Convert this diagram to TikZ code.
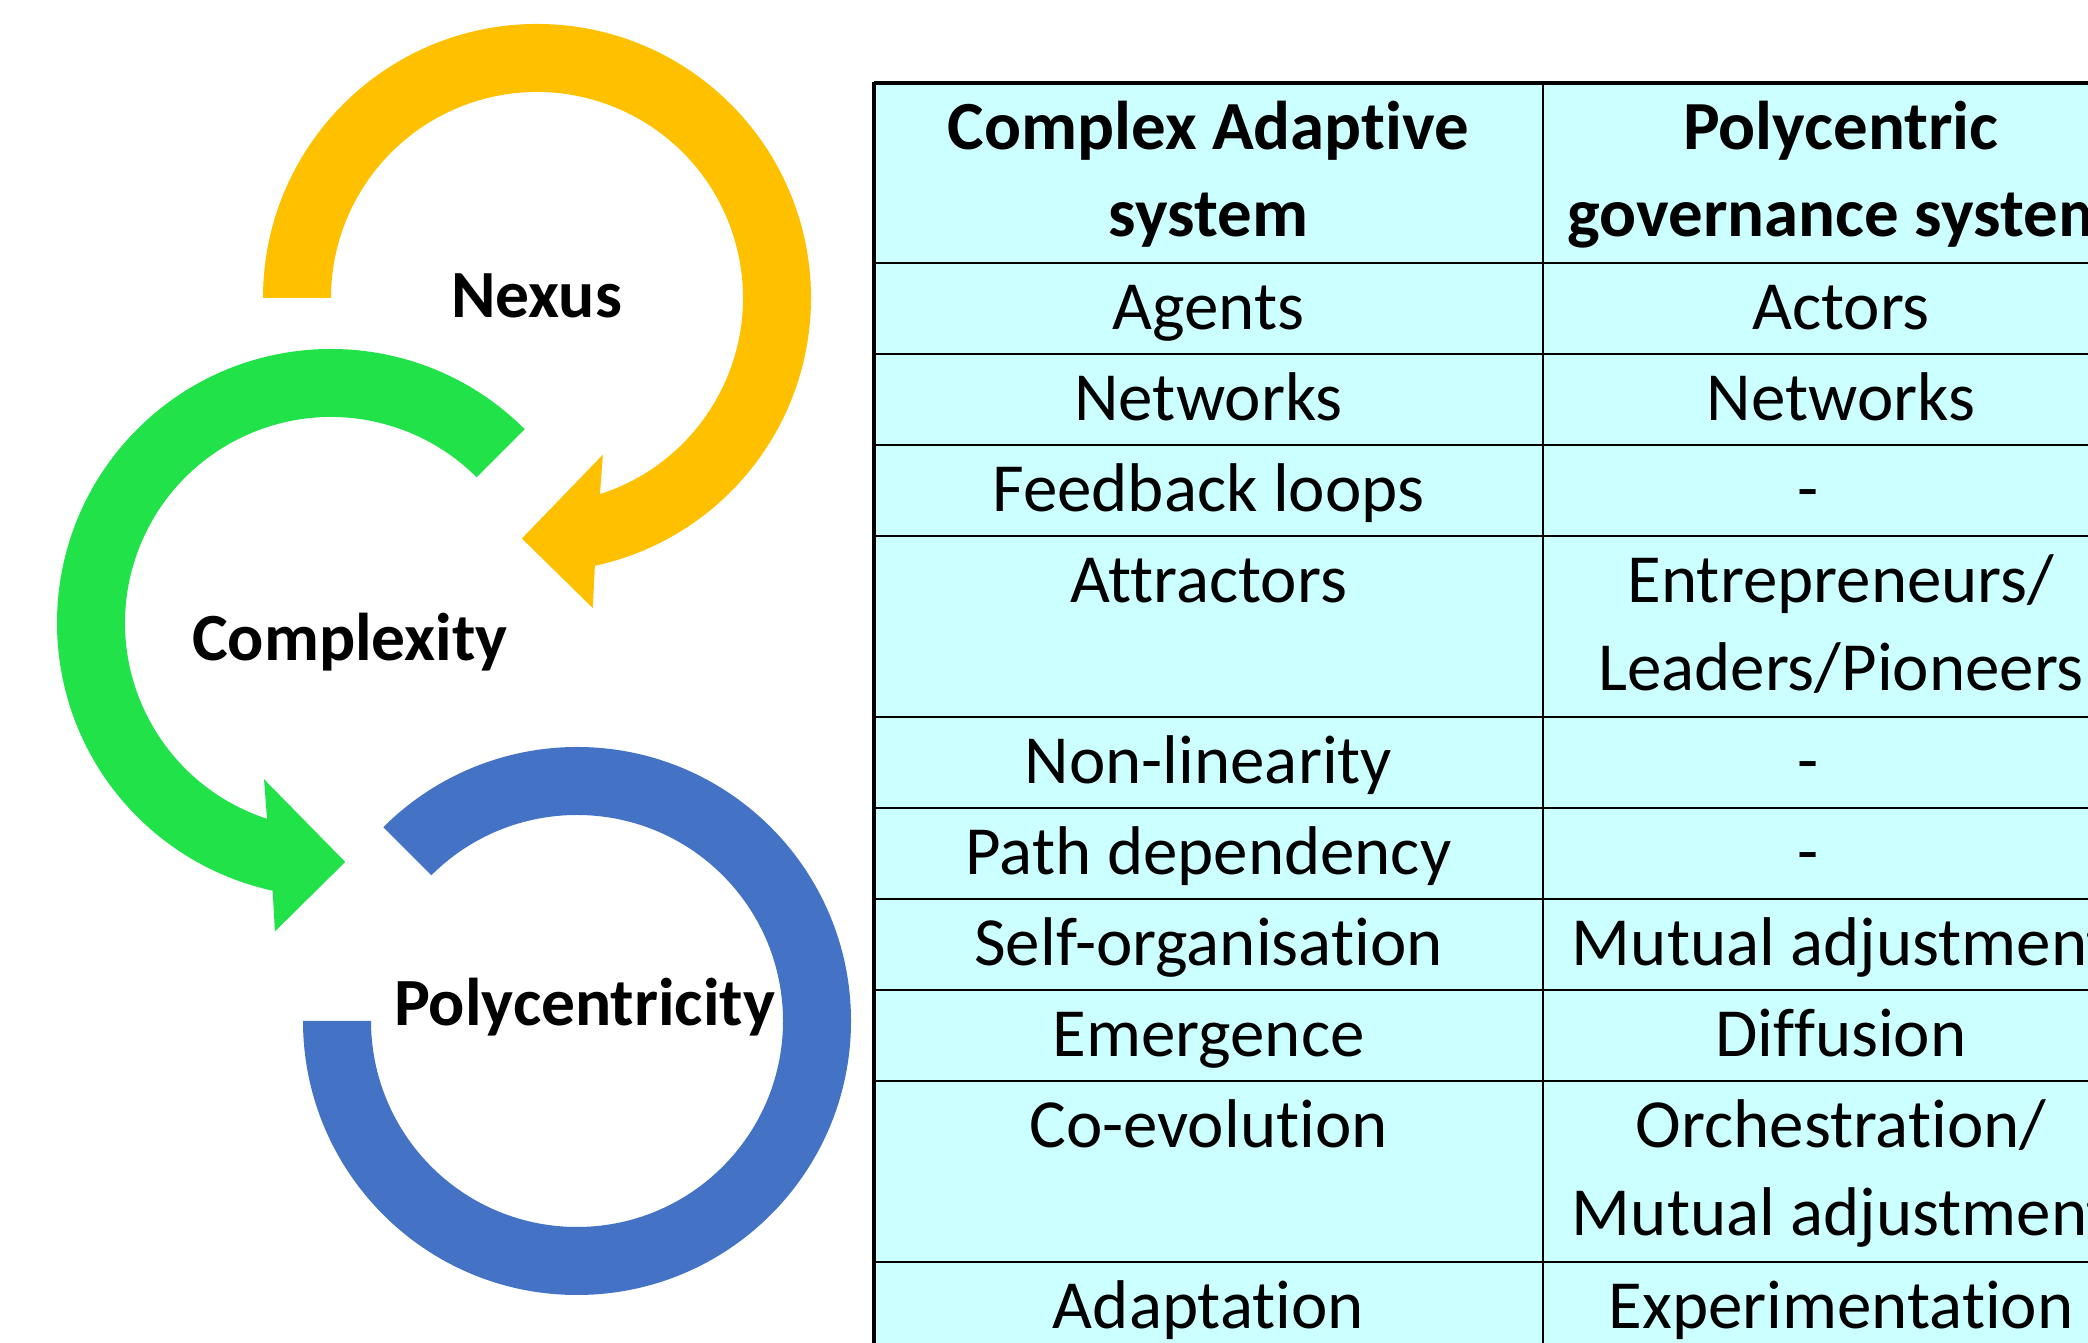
\documentclass[tikz,border=0pt]{standalone}
\usepackage{fontspec}
\setmainfont{Carlito}[Ligatures=NoCommon]
\definecolor{yel}{HTML}{FFC000}
\definecolor{grn}{HTML}{22E24A}
\definecolor{blu}{HTML}{4472C4}
\definecolor{cellbg}{HTML}{CCFFFF}
\tikzset{
  lbl/.style={font=\fontsize{19.2pt}{22pt}\selectfont\bfseries, anchor=base, inner sep=0pt},
  cell/.style={font=\fontsize{19.6pt}{23pt}\selectfont, anchor=base, inner sep=0pt},
  hcell/.style={cell, font=\fontsize{19.6pt}{23pt}\selectfont\bfseries},
  grid/.style={line width=0.75pt, black}
}
\begin{document}
\begin{tikzpicture}[x=0.01cm, y=0.01cm]
\useasboundingbox (0,0) rectangle (2088,1343);
\clip (0,0) rectangle (2088,1343);
\fill[white] (0,0) rectangle (2088,1343);
% ---- circular arrows ----
\begin{scope}[shift={(537,1045)}]
\fill[yel] (180:274) arc[start angle=180, end angle=-77.8, radius=274]
  -- (-79.8:315) -- (-93.6:241) -- (-67.2:170) -- (-72.2:206)
  arc[start angle=-72.2, end angle=180, radius=206] -- cycle;
\end{scope}
\begin{scope}[shift={(331,720)}]
\fill[grn] (45:274) arc[start angle=45, end angle=257.7, radius=274]
  -- (259.7:313.5) -- (273.4:239.4) -- (246.8:170) -- (251.9:206)
  arc[start angle=251.9, end angle=45, radius=206] -- cycle;
\end{scope}
\begin{scope}[shift={(577,322)}]
\fill[blu] (180:274) arc[start angle=180, end angle=495, radius=274]
  -- (495:206) arc[start angle=495, end angle=180, radius=206] -- cycle;
\end{scope}
\node[lbl] (nexus) at (536.5,1025) {Nexus};
\node[lbl] (complexity) at (350,682) {Complexity};
\node[lbl] (poly) at (584.5,317.5) {Polycentricity};
% ---- table ----
\fill[cellbg] (874,1260) rectangle (2139,-10);
\foreach \y in {1260,1080,989,898,807,626,535,444,353,262,81,-10}
  \draw[grid] (874,\y) -- (2139,\y);
\draw[line width=0.9pt] (874,1260) -- (2139,1260);
\draw[line width=0.9pt] (874,1261) -- (874,-10);
\draw[grid] (1543,1260) -- (1543,-10);
\draw[grid] (2139,1260) -- (2139,-10);
% header
\node[hcell] (h1a) at (1208.5,1193) {Complex Adaptive};
\node[hcell] (h1b) at (1208.5,1106) {system};
\node[hcell] (h2a) at (1841,1193) {Polycentric};
\node[hcell] (h2b) at (1841,1106) {governance system};
% rows
\node[cell] (a1) at (1208.5,1013) {Agents};
\node[cell] (b1) at (1841,1013) {Actors};
\node[cell] (a2) at (1208.5,922) {Networks};
\node[cell] (b2) at (1841,922) {Networks};
\node[cell] (a3) at (1208.5,831) {Feedback loops};
\node[cell] (b3) at (1808,831) {-};
\node[cell] (a4) at (1208.5,740) {Attractors};
\node[cell] (b4a) at (1841,740) {Entrepreneurs/};
\node[cell] (b4b) at (1841,652) {Leaders/Pioneers};
\node[cell] (a5) at (1208.5,559) {Non-linearity};
\node[cell] (b5) at (1808,559) {-};
\node[cell] (a6) at (1208.5,468) {Path dependency};
\node[cell] (b6) at (1808,468) {-};
\node[cell] (a7) at (1208.5,377) {Self-organisation};
\node[cell] (b7) at (1841,377) {Mutual adjustment};
\node[cell] (a8) at (1208.5,286) {Emergence};
\node[cell] (b8) at (1841,286) {Diffusion};
\node[cell] (a9) at (1208.5,195) {Co-evolution};
\node[cell] (b9a) at (1841,195) {Orchestration/};
\node[cell] (b9b) at (1841,107) {Mutual adjustment};
\node[cell] (a10) at (1208.5,14) {Adaptation};
\node[cell] (b10) at (1841,14) {Experimentation};
\end{tikzpicture}
\end{document}
